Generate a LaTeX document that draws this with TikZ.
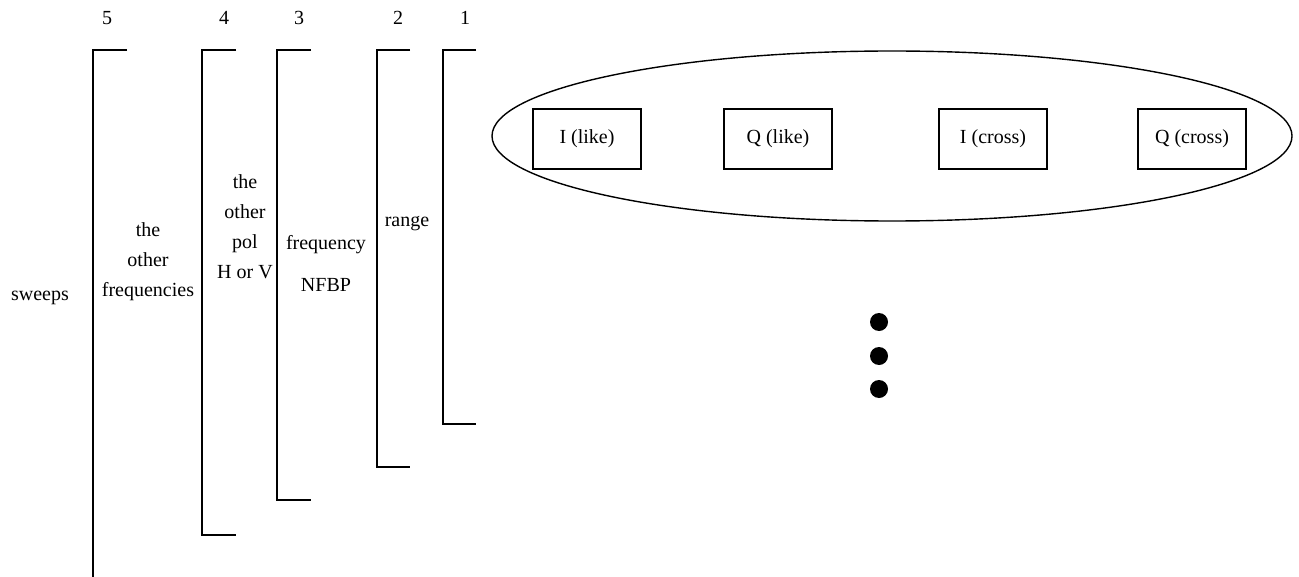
\documentclass[tikz,border=0pt]{standalone}
\usepackage{fontspec}
\setmainfont{Liberation Serif}
\usepackage{tikz}
\usetikzlibrary{shapes.geometric, positioning}

\begin{document}
\begin{tikzpicture}[x=0.5pt, y=-0.5pt, font=\fontsize{10}{15}\selectfont]
  \tikzstyle{bracketline} = [line width=0.9pt, black]
  \tikzstyle{levelnum} = [inner sep=0pt]
  \tikzstyle{levellabel} = [align=center, inner sep=0pt]
  \tikzstyle{sampbox} = [rectangle, draw, line width=0.6pt, minimum width=54pt, minimum height=30pt, inner sep=0pt]
  \tikzstyle{pulsegroup} = [ellipse, draw, line width=0.7pt, minimum width=400pt, minimum height=85pt, inner sep=0pt]
  \tikzstyle{moredot} = [circle, fill=black, minimum size=9pt, inner sep=0pt]

  \useasboundingbox (0,0) rectangle (1299,577);

  % nesting levels, outermost first
  \draw[bracketline] (127,50) -| (93,577);
  \draw[bracketline] (236,50) -| (202,535) -- (236,535);
  \draw[bracketline] (311,50) -| (277,500) -- (311,500);
  \draw[bracketline] (410,50) -| (377,467) -- (410,467);
  \draw[bracketline] (476,50) -| (443,424) -- (476,424);

  \node [levelnum] (n5) at (107,18) {5};
  \node [levelnum] (n4) at (224,18) {4};
  \node [levelnum] (n3) at (299,18) {3};
  \node [levelnum] (n2) at (398,18) {2};
  \node [levelnum] (n1) at (465,18) {1};

  \node [levellabel] (sweeps) at (40,298) {sweeps};
  \node [levellabel] (otherfreq) at (148,262) {the\\other\\frequencies};
  \node [levellabel] (otherpol) at (245,227) {the\\other\\pol\\H or V};
  \node [levellabel, font=\fontsize{10}{21}\selectfont] (freq) at (326,263) {frequency\\NFBP};
  \node [levellabel] (range) at (407,224) {range};

  % one sample: like and cross channels
  \node [pulsegroup] (sample) at (892,136) {};
  \node [sampbox] (ilike) at (587,139) {I (like)};
  \node [sampbox] (qlike) at (778,139) {Q (like)};
  \node [sampbox] (icross) at (993,139) {I (cross)};
  \node [sampbox] (qcross) at (1192,139) {Q (cross)};

  \node [moredot] (dota) at (879,322) {};
  \node [moredot] (dotb) at (879,356) {};
  \node [moredot] (dotc) at (879,389) {};
\end{tikzpicture}
\end{document}
